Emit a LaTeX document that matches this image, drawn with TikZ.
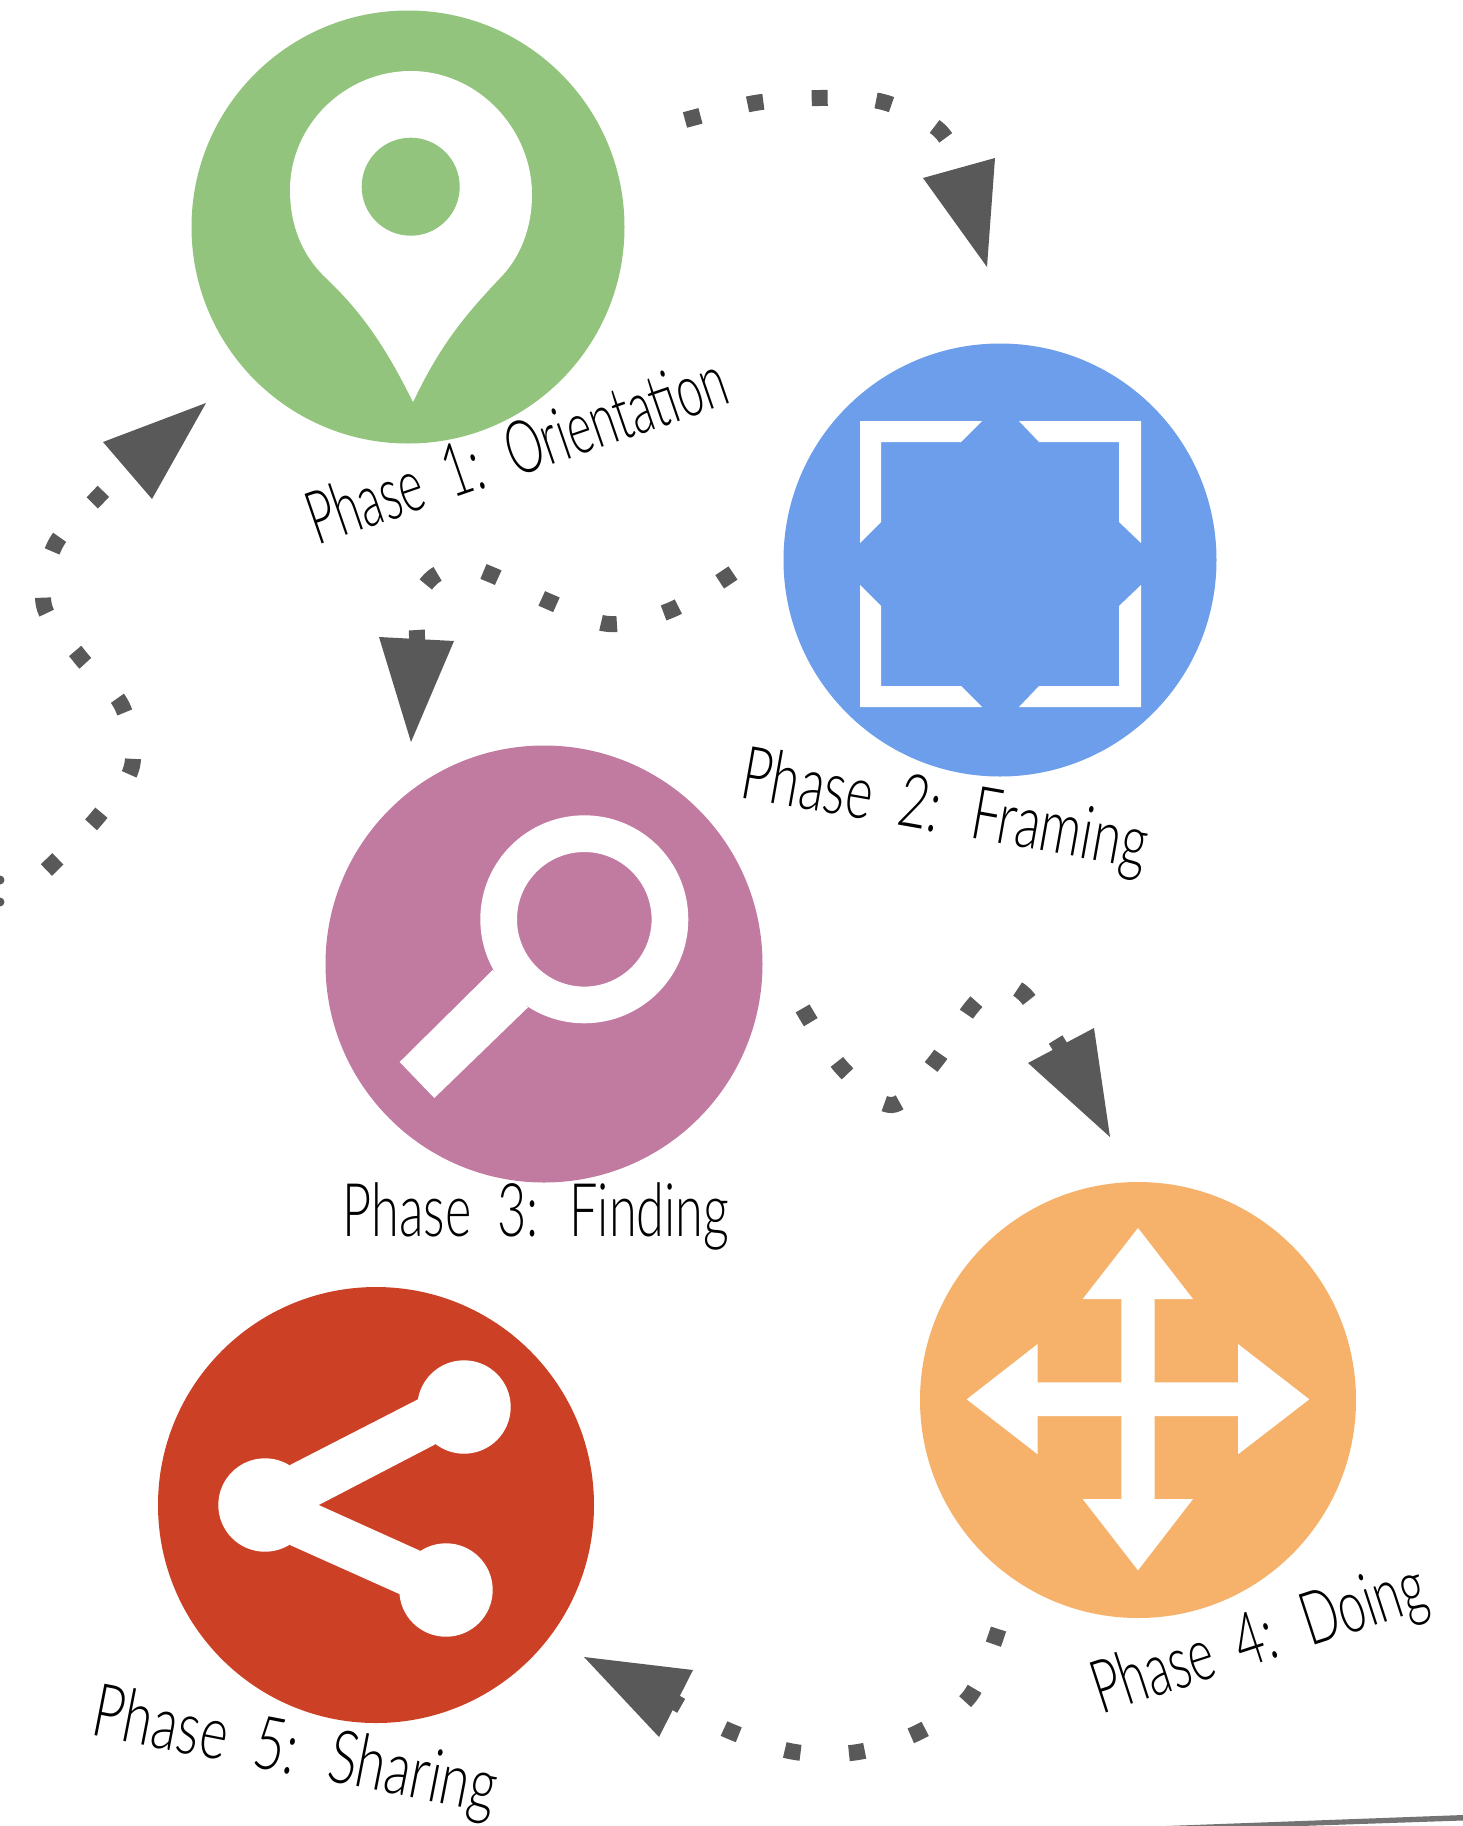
\documentclass[tikz,border=0pt]{standalone}
\usepackage{fontspec}
\newfontfamily\hand[UprightFont=* Light,WordSpace=1.9]{Lato}
\definecolor{cgreen}{HTML}{93C47D}
\definecolor{cblue}{HTML}{6D9EEB}
\definecolor{cpink}{HTML}{C27BA0}
\definecolor{corange}{HTML}{F6B26B}
\definecolor{cred}{HTML}{CC4125}
\definecolor{cgray}{HTML}{595959}
\tikzset{
  phase/.style={circle,inner sep=0pt,minimum size=#1,draw=none},
  conn/.style={draw=cgray,line width=16pt,dash pattern=on 16pt off 48.5pt},
  head/.style={fill=cgray},
  icon/.style={fill=white},
  lab/.style={font=\hand\fontsize{74}{74}\selectfont,text=black,inner sep=0pt,transform shape,anchor=base}
}
\begin{document}
\begin{tikzpicture}[x=1pt,y=-1pt]
\useasboundingbox (0,0) rectangle (1463,1826);
\fill[white] (0,0) rectangle (1463,1826);
% circles
\node[phase=433pt,fill=cgreen] (n1) at (408,227) {};
\node[phase=433pt,fill=cblue] (n2) at (1000,560) {};
\node[phase=437pt,fill=cpink] (n3) at (544,964) {};
\node[phase=436pt,fill=corange] (n4) at (1138,1400) {};
\node[phase=436pt,fill=cred] (n5) at (376,1505) {};
% pin
\fill[icon] (413,402) .. controls (385,345) and (360,310) .. (325,277)
  .. controls (302,255) and (290,225) .. (290,190)
  .. controls (290,125) and (345,71) .. (411,71)
  .. controls (477,71) and (532,128) .. (532,195)
  .. controls (532,228) and (520,258) .. (500,278)
  .. controls (465,315) and (440,345) .. (413,402) -- cycle;
\fill[cgreen] (410.7,186.7) circle (49);
% brackets
\fill[icon] (860,421)--(982,421)--(961,442)--(881,442)--(881,522)--(860,543)--cycle;
\fill[icon] (1019,421)--(1141,421)--(1141,543)--(1119,522)--(1119,442)--(1039,442)--cycle;
\fill[icon] (860,585)--(881,606)--(881,686)--(961,686)--(982,707)--(860,707)--cycle;
\fill[icon] (1141,585)--(1119,606)--(1119,686)--(1039,686)--(1019,707)--(1141,707)--cycle;
% magnifier
\fill[icon] (492.7,970)--(399.7,1062)--(434.3,1098)--(528,1007.3)--cycle;
\fill[icon,even odd rule] (584.3,919.3) circle (104) (584.3,919.3) circle (67.3);
% arrows
\fill[icon] (1138,1228)--(1193,1299)--(1154.7,1299)--(1154.7,1382.3)--(1238,1382.3)--(1238,1344)--(1309.3,1399.3)--(1238,1454.3)--(1238,1416)--(1154.7,1416)--(1154.7,1499)--(1193,1499)--(1138,1570.3)--(1082.7,1499)--(1121.3,1499)--(1121.3,1416)--(1037.7,1416)--(1037.7,1454.3)--(966.7,1399.3)--(1037.7,1344)--(1037.7,1382.3)--(1121.3,1382.3)--(1121.3,1299)--(1082.7,1299)--cycle;
% share
\fill[icon] (464,1407) circle (46.7) (265,1505) circle (46.7) (446,1590) circle (46.7);
\fill[icon] (290,1465)--(418,1399.3)--(435.3,1444.3)--(318.7,1505)--(420,1550.7)--(400,1594.3)--(290,1545)--(265,1505)--cycle;
% connector ends
\coordinate (a1) at (685,120); \coordinate (b1) at (965,175);
\coordinate (a2) at (733,573); \coordinate (b2) at (413,690);
\coordinate (a3) at (802.6,1008.4); \coordinate (b3) at (1075,1075);
\coordinate (a4) at (998.5,1629); \coordinate (b4) at (640,1680);
\coordinate (a5) at (46.4,870); \coordinate (b5) at (165,430);
% connectors
\draw[conn] plot[smooth,tension=.55] coordinates {(a1) (755,103) (819,98) (883,102) (939,130) (b1)};
\fill[head] (923,178)--(995,158)--(987,267)--cycle;
\draw[conn,dash pattern=on 16pt off 48.2pt] plot[smooth,tension=.55] coordinates {(a2) (671,610) (609,624) (550,602) (492,575) (462,566) (433,577) (416,603) (417,638) (b2)};
\fill[head] (379,637)--(454,641)--(411,742)--cycle;
\draw[conn,dash pattern=on 16pt off 47.6pt] plot[smooth,tension=.55] coordinates {(a3) (842,1068) (892,1105) (935,1062) (971,1008) (997,986) (1024,994) (1059,1045) (b3)};
\fill[head] (1028,1063)--(1094,1028)--(1110,1137)--cycle;
\draw[conn] plot[smooth,tension=.55] coordinates {(a4) (970,1696) (919,1732) (858,1752) (795,1752) (732,1732) (678,1704) (b4)};
\fill[head] (584,1657)--(693,1670)--(659,1737)--cycle;
\draw[conn,dash pattern=on 16pt off 47.5pt] plot[smooth,tension=.55] coordinates {(a5) (97,818) (132,766) (122,706) (80,657) (44,605.5) (55,545) (97,498) (135,460) (b5)};
\fill[head] (103,442)--(206,403)--(152,499)--cycle;
% clipped colon at the left edge
\fill[cgray] (0,880) circle (4.5) (0,902) circle (4.5);
% labels
\node[lab,rotate=19,xscale=.63] (l1) at (525,474) {Phase 1: Orientation};
\node[lab,rotate=-10,xscale=.70] (l2) at (941,833) {Phase 2: Framing};
\node[lab,xscale=.682] (l3) at (536,1236) {Phase 3: Finding};
\node[lab,rotate=18,xscale=.66] (l4) at (1266,1661) {Phase 4: Doing};
\node[lab,rotate=-11,xscale=.72] (l5) at (291,1774) {Phase 5: Sharing};
% page edge
\fill[gray!90!black] (1166,1826)--(1463,1815)--(1463,1820.5)--(1301,1826)--cycle;
\end{tikzpicture}
\end{document}
